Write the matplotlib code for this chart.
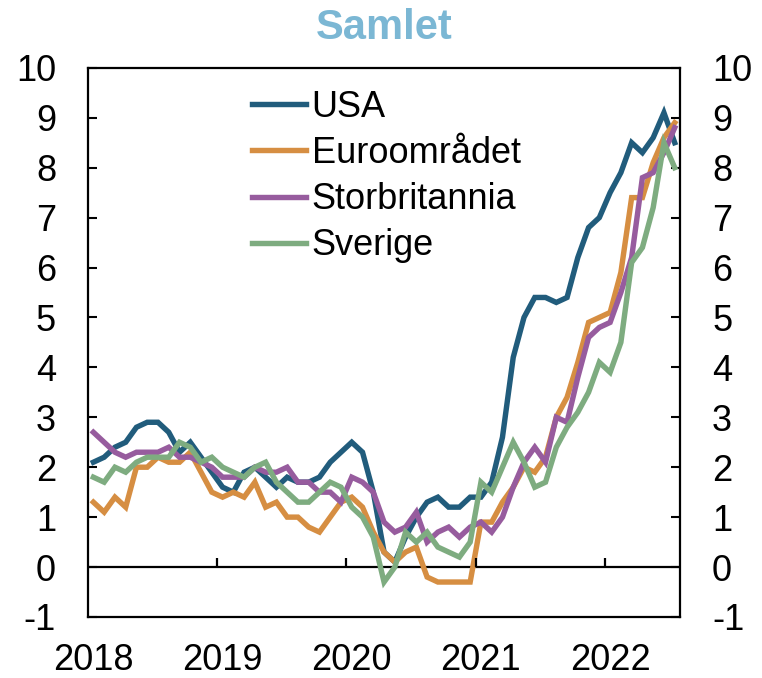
import matplotlib
matplotlib.use("Agg")
import matplotlib.pyplot as plt

plt.rcParams['font.family'] = ['Liberation Sans', 'DejaVu Sans']
plt.rcParams['axes.unicode_minus'] = False

# Månedlige data, jan 2018 - jul 2022 (prosent, tolvmånedersvekst)
years = ['2018', '2019', '2020', '2021', '2022']

usa = [2.1, 2.2, 2.4, 2.5, 2.8, 2.9, 2.9, 2.7, 2.3, 2.5, 2.2, 1.9,
       1.6, 1.5, 1.9, 2.0, 1.8, 1.6, 1.8, 1.7, 1.7, 1.8, 2.1, 2.3,
       2.5, 2.3, 1.5, 0.3, 0.1, 0.6, 1.0, 1.3, 1.4, 1.2, 1.2, 1.4,
       1.4, 1.7, 2.6, 4.2, 5.0, 5.4, 5.4, 5.3, 5.4, 6.2, 6.8, 7.0,
       7.5, 7.9, 8.5, 8.3, 8.6, 9.1, 8.5]

euro = [1.3, 1.1, 1.4, 1.2, 2.0, 2.0, 2.2, 2.1, 2.1, 2.3, 1.9, 1.5,
        1.4, 1.5, 1.4, 1.7, 1.2, 1.3, 1.0, 1.0, 0.8, 0.7, 1.0, 1.3,
        1.4, 1.2, 0.7, 0.3, 0.1, 0.3, 0.4, -0.2, -0.3, -0.3, -0.3, -0.3,
        0.9, 0.9, 1.3, 1.6, 2.0, 1.9, 2.2, 3.0, 3.4, 4.1, 4.9, 5.0,
        5.1, 5.9, 7.4, 7.4, 8.1, 8.6, 8.9]

uk = [2.7, 2.5, 2.3, 2.2, 2.3, 2.3, 2.3, 2.4, 2.2, 2.2, 2.1, 2.0,
      1.8, 1.8, 1.8, 2.0, 1.9, 1.9, 2.0, 1.7, 1.7, 1.5, 1.5, 1.3,
      1.8, 1.7, 1.5, 0.9, 0.7, 0.8, 1.1, 0.5, 0.7, 0.8, 0.6, 0.8,
      0.9, 0.7, 1.0, 1.6, 2.1, 2.4, 2.1, 3.0, 2.9, 3.8, 4.6, 4.8,
      4.9, 5.5, 6.2, 7.8, 7.9, 8.3, 8.8]

sverige = [1.8, 1.7, 2.0, 1.9, 2.1, 2.2, 2.2, 2.2, 2.5, 2.4, 2.1, 2.2,
           2.0, 1.9, 1.8, 2.0, 2.1, 1.7, 1.5, 1.3, 1.3, 1.5, 1.7, 1.6,
           1.2, 1.0, 0.6, -0.3, 0.0, 0.7, 0.5, 0.7, 0.4, 0.3, 0.2, 0.5,
           1.7, 1.5, 2.0, 2.5, 2.1, 1.6, 1.7, 2.4, 2.8, 3.1, 3.5, 4.1,
           3.9, 4.5, 6.1, 6.4, 7.2, 8.5, 8.0]

series = [
    ('USA', usa, '#215c7c'),
    ('Euroområdet', euro, '#d68e42'),
    ('Storbritannia', uk, '#975c9e'),
    ('Sverige', sverige, '#7eac80'),
]

x = list(range(len(usa)))

fig = plt.figure(figsize=(7.62, 6.78), dpi=100)
ax = fig.add_axes([0.1155, 0.090, 0.777, 0.810])

for name, vals, col in series:
    ax.plot(x, vals, color=col, lw=3.9, label=name, solid_joinstyle='miter')

ax.set_xlim(-0.5, len(usa) - 0.5)
ax.set_ylim(-1, 10)

# nullinje med årsmerker
ax.axhline(0, color='black', lw=1.6, zorder=1)
year_starts = [12 * k for k in range(len(years))]
ax.vlines([s - 0.5 for s in year_starts[1:]], 0, 0.18, color='black', lw=1.6)

ax.set_xticks(year_starts)
ax.set_xticklabels(years)
ax.tick_params(axis='x', length=0, pad=19, labelsize=26)

ax.set_yticks(range(-1, 11))
ax.tick_params(axis='y', direction='in', length=6.5, width=1.5,
               labelsize=26, pad=23, left=True, right=True,
               labelleft=True, labelright=True)

for sp in ax.spines.values():
    sp.set_linewidth(1.6)

ax.set_title('Samlet', color='#7bb7d4', fontsize=30, fontweight='bold', pad=21)

ax.legend(loc='upper left', bbox_to_anchor=(0.277, 0.96), frameon=False,
          fontsize=26, handlelength=1.5, handletextpad=0.15,
          labelspacing=0.31, borderpad=0, borderaxespad=0)

fig.savefig('out.png', dpi=100)
